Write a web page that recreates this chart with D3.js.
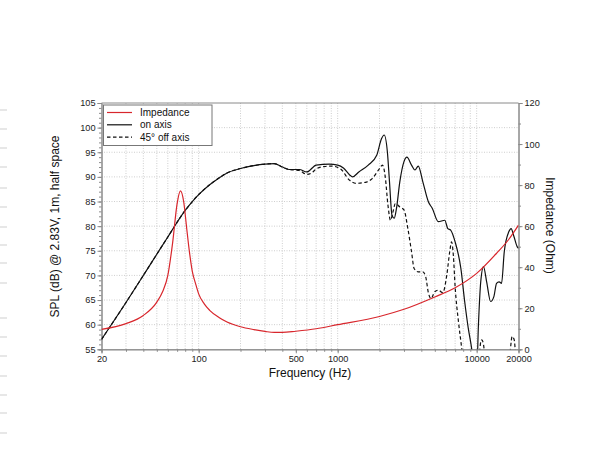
<!DOCTYPE html>
<html><head><meta charset="utf-8">
<script src="https://cdn.jsdelivr.net/npm/d3@7"></script>
<style>
html,body{margin:0;padding:0;background:#fff;}
svg text{font-family:"Liberation Sans",Arial,Helvetica,sans-serif;}
</style></head>
<body><svg id="chart" width="600" height="450"></svg>
<script>
// ---- data ----
const impFreq = [20,30,40,50,55,60,65,70,74,78,82,86,90,95,100,110,120,140,160,200,250,300,350,400,500,700,1000,2000,3000,5000,7000,10000,14000,17000,20000];
const impOhm  = [9.7,12.5,16.5,23,28,36,52,71,77.2,72,59,47,38,32,27,22,19,15.5,13.3,11,9.6,8.7,8.2,8.2,8.8,10,12,16,19.5,25.5,30,37,47,53.5,60.5];

const onFreq = [20,30,40,50,60,70,80,90,100,120,142,160,200,250,300,350,400,450,530,600,700,870,1000,1100,1220,1280,1420,1660,1910,2070,2160,2280,2360,2460,2550,2650,2800,3000,3150,3400,3600,3800,4100,4500,4800,5300,5900,6200,6500,7000,7700,8200,8700,9200,9700,10000,10300,10700,11200,11800,12600,13300,13900,14500,15100,15800,17000,17700,18500,19600,20000];
const onSPL  = [57.0,64.5,70.0,74.3,77.8,80.8,83.2,85.0,86.4,88.4,89.9,90.8,91.7,92.3,92.6,92.7,92.0,91.5,91.5,91.0,92.4,92.6,92.4,91.8,90.4,90.0,91.0,92.4,94.4,97.8,98.5,95.0,89.0,82.2,81.6,83.6,89.0,93.1,94.0,92.4,91.4,92.2,89.0,84.9,83.6,80.9,81.2,79.5,79.2,76.8,71.4,64.7,59.3,55.2,50,50,60,68.7,71.8,68.7,64.7,65.7,68.4,68.7,68.4,74.8,78.8,79.5,78.0,75.8,75.5];

const offFreq = [20,30,40,50,60,70,80,90,100,120,142,160,200,250,300,350,400,450,530,600,650,700,800,900,1050,1220,1350,1580,1780,2000,2100,2200,2300,2400,2500,2600,2800,3000,3200,3400,3550,3800,4100,4300,4500,4700,5000,5300,5700,6100,6400,6600,6800,7000,7400,7800,8200,10000,10400,10700,10900,11200,11500,12000,17000,17500,18000,18600,19200,20000];
const offSPL  = [57.0,64.5,70.0,74.3,77.8,80.8,83.2,85.0,86.4,88.4,89.9,90.8,91.7,92.3,92.6,92.7,92.0,91.5,91.3,90.5,90.8,91.6,92.1,92.2,91.6,89.3,88.7,88.9,89.7,91.7,92.4,90.0,84.3,81.2,82.9,84.6,83.9,83.3,79.5,74.8,71.4,70.7,70.7,69.7,66.4,65.3,66.7,67.0,66.5,70.1,74.8,76.8,74.0,67.7,60.6,55.3,50,50,53,56.5,56.9,56.0,53,50,50,55,57.6,57.0,53,50];

const freqTickLabels = [20,100,500,1000,10000,20000];
const splTicks = [55,60,65,70,75,80,85,90,95,100,105];
const impTicks = [0,20,40,60,80,100,120];
const legendLabels = ["Impedance","on axis","45° off axis"];
const edgeMarksY = [110,129,148,167,188,207,227,245,263,283,318,337,356,376,395,413,433];

// ---- layout ----
const svg = d3.select("#chart");
const L = 101.5, R = 518.5, T = 103, B = 349.3;
const red = "#d8262c", axisGray = "#8a8a8a", gridGray = "#c2c2c2";

const x = d3.scaleLog().domain([20,20000]).range([L,R]);
const y = d3.scaleLinear().domain([55,105]).range([B,T]);
const yr = d3.scaleLinear().domain([0,120]).range([B,T]);

// faint marks at page edge
svg.append("g").selectAll("line").data(edgeMarksY).join("line")
  .attr("x1",0).attr("x2",7).attr("y1",d=>d).attr("y2",d=>d)
  .attr("stroke","#cfcfcf").attr("stroke-width",1);

// grid
const gridFreqs = [];
for (let dec=10; dec<=10000; dec*=10) for (let m=1;m<=9;m++){ const f=dec*m; if (f>20 && f<20000) gridFreqs.push(f); }
svg.append("g").selectAll("line").data(gridFreqs).join("line")
  .attr("x1",d=>x(d)).attr("x2",d=>x(d)).attr("y1",T).attr("y2",B)
  .attr("stroke",gridGray).attr("stroke-width",0.8).attr("stroke-dasharray","1,1.5");
svg.append("g").selectAll("line").data(splTicks.slice(1,-1)).join("line")
  .attr("x1",L).attr("x2",R).attr("y1",d=>y(d)).attr("y2",d=>y(d))
  .attr("stroke",gridGray).attr("stroke-width",0.8).attr("stroke-dasharray","1,1.5");

// axes
const minorSpl = d3.range(55,105.01,1);
const gl = svg.append("g").attr("transform",`translate(${L},0)`)
  .call(d3.axisLeft(y).tickValues(minorSpl).tickSize(2.5).tickFormat(""));
gl.append("g").call(d3.axisLeft(y).tickValues(splTicks).tickSize(4).tickPadding(2).tickFormat(d3.format("d")));

const gr = svg.append("g").attr("transform",`translate(${R},0)`)
  .call(d3.axisRight(yr).tickValues(d3.range(0,121,10)).tickSize(2.5).tickFormat(""));
gr.append("g").call(d3.axisRight(yr).tickValues(impTicks).tickSize(4).tickPadding(2).tickFormat(d3.format("d")));

const gb = svg.append("g").attr("transform",`translate(0,${B})`)
  .call(d3.axisBottom(x).tickValues([20].concat(gridFreqs,[20000])).tickSize(2.5).tickFormat(""));
gb.append("g").call(d3.axisBottom(x).tickValues(freqTickLabels).tickSize(4).tickPadding(2).tickFormat(d3.format("d")));

svg.selectAll(".domain").attr("stroke",axisGray);
svg.selectAll(".tick line").attr("stroke",axisGray);
svg.selectAll(".tick text").attr("fill","#222").attr("font-size",9.2).attr("font-family","Liberation Sans, Arial, sans-serif");
// top frame
svg.append("line").attr("x1",L).attr("x2",R).attr("y1",T).attr("y2",T).attr("stroke",axisGray);

// curves
svg.append("clipPath").attr("id","plotclip").append("rect")
  .attr("x",L).attr("y",T).attr("width",R-L).attr("height",B-T);
const plot = svg.append("g").attr("clip-path","url(#plotclip)");

const lineSpl = (fs,vs) => d3.line().curve(d3.curveMonotoneX).x((d,i)=>x(fs[i])).y((d,i)=>y(vs[i]))(vs);
const lineImp = d3.line().curve(d3.curveMonotoneX).x((d,i)=>x(impFreq[i])).y(d=>yr(d));

plot.append("path").attr("d",lineSpl(offFreq,offSPL)).attr("fill","none")
  .attr("stroke","#111").attr("stroke-width",1.2).attr("stroke-dasharray","3.5,2.5");
plot.append("path").attr("d",lineSpl(onFreq,onSPL)).attr("fill","none")
  .attr("stroke","#111").attr("stroke-width",1.2);
plot.append("path").attr("d",lineImp(impOhm)).attr("fill","none")
  .attr("stroke",red).attr("stroke-width",1.2);

// legend
const lg = svg.append("g");
lg.append("rect").attr("x",103.5).attr("y",105).attr("width",108.5).attr("height",40.5)
  .attr("fill","#fff").attr("stroke","#777").attr("stroke-width",1);
const styles = [{c:red,d:null},{c:"#111",d:null},{c:"#111",d:"3.5,2.5"}];
legendLabels.forEach((t,i)=>{
  const yy = 112.5 + i*12.3;
  lg.append("line").attr("x1",107).attr("x2",132).attr("y1",yy).attr("y2",yy)
    .attr("stroke",styles[i].c).attr("stroke-width",1.2).attr("stroke-dasharray",styles[i].d);
  lg.append("text").attr("x",140).attr("y",yy+3.6).attr("font-size",10).attr("fill","#111").text(t);
});

// axis titles
svg.append("text").attr("transform","translate(59,226.5) rotate(-90)").attr("text-anchor","middle")
  .attr("font-size",12).attr("fill","#111").text("SPL (dB) @ 2.83V, 1m, half space");
svg.append("text").attr("x",310).attr("y",377).attr("text-anchor","middle")
  .attr("font-size",12).attr("fill","#111").text("Frequency (Hz)");
svg.append("text").attr("transform","translate(546,225.5) rotate(90)").attr("text-anchor","middle")
  .attr("font-size",12).attr("fill","#111").text("Impedance (Ohm)");
</script></body></html>
